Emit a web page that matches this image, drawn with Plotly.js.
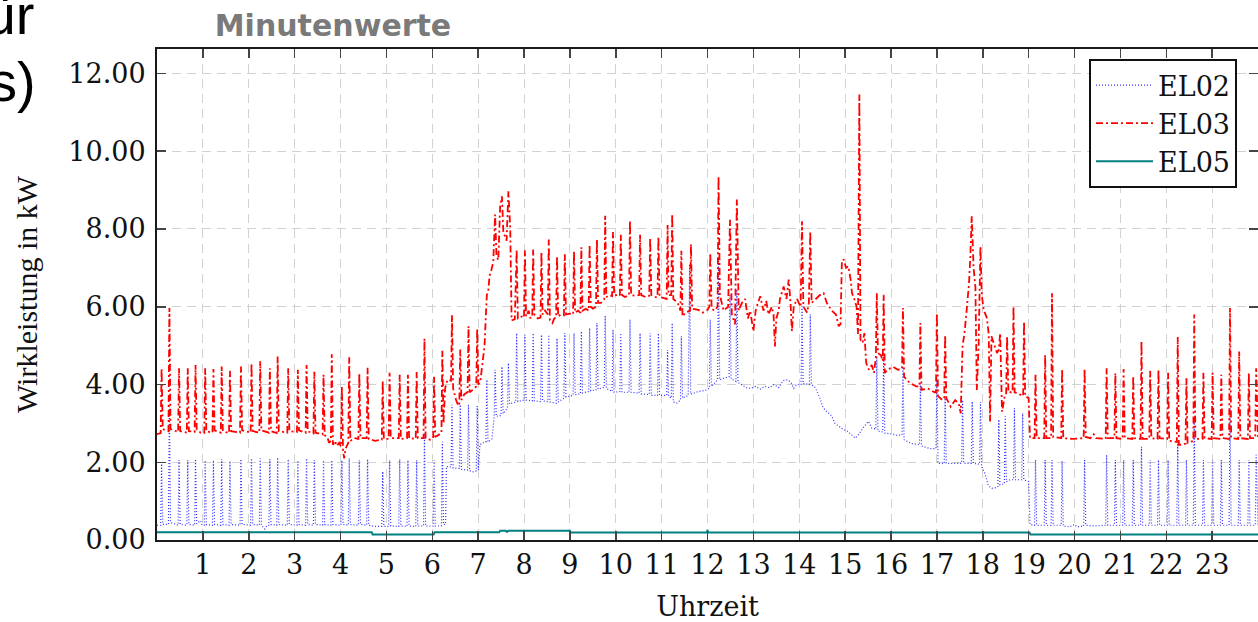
<!DOCTYPE html>
<html>
<head>
<meta charset="utf-8">
<script src="https://cdn.plot.ly/plotly-3.0.1.min.js"></script>
<style>
html,body{margin:0;padding:0;overflow:hidden;background:#fff;}
#chart{width:1264px;height:622px;}
</style>
</head>
<body>
<div id="chart"></div>
<script>
// ---- tick labels ----
const hourTicks = [1,2,3,4,5,6,7,8,9,10,11,12,13,14,15,16,17,18,19,20,21,22,23];
const hourLabels = ["1","2","3","4","5","6","7","8","9","10","11","12","13","14","15","16","17","18","19","20","21","22","23"];
const kwTicks = [0,2,4,6,8,10,12];
const kwLabels = ["0.00","2.00","4.00","6.00","8.00","10.00","12.00"];

// ---- EL02: [hour, kW] ----
const el02 = [
[0,0.38],[0.08,0.38],[0.10,2.0],[0.125,0.4],[0.25,0.4],[0.27,3.43],[0.295,0.45],
[0.46,0.38],[0.48,2.05],[0.505,0.4],[0.65,0.38],[0.67,2.05],[0.695,0.4],
[0.82,0.38],[0.84,2.08],[0.865,0.42],[0.95,0.5],[0.98,0.4],
[1.03,0.38],[1.05,2.05],[1.075,0.4],[1.21,0.38],[1.23,2.05],[1.255,0.4],
[1.39,0.38],[1.41,2.08],[1.435,0.4],[1.57,0.38],[1.59,2.03],[1.615,0.4],
[1.81,0.38],[1.83,2.08],[1.855,0.4],[2.04,0.38],[2.06,2.1],[2.085,0.4],
[2.23,0.38],[2.25,2.1],[2.275,0.38],[2.35,0.28],[2.40,0.38],
[2.44,0.38],[2.46,2.08],[2.485,0.4],[2.61,0.38],[2.63,2.12],[2.655,0.4],
[2.84,0.38],[2.86,2.08],[2.885,0.4],[3.05,0.38],[3.07,2.05],[3.095,0.4],
[3.24,0.38],[3.26,2.1],[3.285,0.4],[3.41,0.38],[3.43,2.05],[3.455,0.4],
[3.61,0.38],[3.63,2.05],[3.655,0.4],[3.79,0.38],[3.81,2.05],[3.835,0.4],
[4.01,0.38],[4.03,2.05],[4.055,0.4],[4.17,0.38],[4.19,2.1],[4.215,0.4],
[4.39,0.38],[4.41,2.05],[4.435,0.4],[4.57,0.38],[4.59,2.08],[4.615,0.38],
[4.75,0.35],[4.90,0.35],[4.92,1.76],[4.945,0.35],[5.05,0.35],[5.07,2.05],[5.095,0.36],
[5.27,0.35],[5.29,2.08],[5.315,0.36],[5.45,0.35],[5.47,2.05],[5.495,0.36],
[5.64,0.35],[5.66,2.05],[5.685,0.36],[5.81,0.36],[5.83,2.75],[5.855,0.36],
[6.02,0.36],[6.04,2.05],[6.065,0.36],[6.20,0.36],[6.22,2.53],[6.245,0.4],
[6.29,0.4],[6.31,1.89],[6.41,1.88],[6.43,3.48],[6.455,1.85],
[6.59,1.84],[6.61,3.48],[6.635,1.82],[6.77,1.8],[6.79,3.48],[6.815,1.78],
[6.9,1.75],[6.96,1.78],[6.98,3.45],[7.005,1.8],[7.04,2.45],[7.10,2.5],
[7.17,2.52],[7.19,4.12],[7.215,2.52],[7.3,2.6],[7.34,3.1],
[7.35,3.15],[7.37,4.38],[7.395,3.18],[7.46,3.2],[7.50,3.2],[7.52,4.46],[7.545,3.25],
[7.64,3.4],[7.66,4.55],[7.685,3.5],[7.75,3.53],
[7.82,3.55],[7.84,5.32],[7.865,3.56],[8.00,3.6],[8.02,5.28],[8.045,3.6],
[8.18,3.58],[8.20,5.32],[8.225,3.58],[8.36,3.56],[8.38,5.28],[8.405,3.58],
[8.52,3.56],[8.54,5.28],[8.565,3.55],[8.70,3.52],[8.72,5.19],[8.745,3.55],
[8.87,3.65],[8.89,5.32],[8.915,3.68],[9.07,3.72],[9.09,5.32],[9.115,3.74],
[9.23,3.76],[9.25,5.37],[9.275,3.78],[9.41,3.82],[9.43,5.45],[9.455,3.84],
[9.57,3.86],[9.59,5.58],[9.615,3.88],[9.75,3.93],[9.77,5.77],[9.795,3.9],
[9.92,3.82],[9.94,5.41],[9.965,3.8],[10.09,3.82],[10.11,5.32],[10.135,3.8],
[10.29,3.8],[10.31,5.67],[10.335,3.8],[10.51,3.78],[10.53,5.32],[10.555,3.76],
[10.73,3.74],[10.75,5.32],[10.775,3.72],[10.91,3.72],[10.93,5.32],[10.955,3.72],
[11.11,3.72],[11.13,4.89],[11.15,3.7],[11.21,3.65],[11.23,5.58],[11.255,3.55],
[11.33,3.52],[11.41,3.6],[11.43,5.24],[11.455,3.65],
[11.58,3.72],[11.61,7.1],[11.635,3.75],[11.8,3.82],[11.95,3.85],
[12.04,3.9],[12.06,5.67],[12.085,3.95],[12.22,4.12],[12.24,7.21],[12.265,4.12],
[12.40,4.18],[12.47,4.2],[12.49,6.31],[12.515,4.15],[12.62,4.08],[12.64,6.44],[12.665,4.05],
[12.75,3.98],[12.85,3.92],[12.95,3.9],[13.05,3.95],[13.15,3.88],[13.25,3.95],[13.35,3.92],
[13.45,4.0],[13.55,3.92],[13.65,4.1],[13.75,4.12],[13.82,4.05],[13.88,3.9],[13.95,4.0],
[14.04,4.0],[14.06,6.01],[14.085,4.02],[14.15,4.02],[14.22,4.0],[14.24,5.8],[14.265,4.0],
[14.35,3.92],[14.45,3.65],[14.52,3.4],[14.6,3.3],[14.7,3.2],[14.78,3.0],[14.86,2.92],
[14.95,2.85],[15.05,2.8],[15.15,2.7],[15.22,2.62],[15.3,2.72],[15.4,2.9],[15.51,3.05],[15.58,2.88],
[15.67,2.85],[15.69,4.72],[15.715,2.8],[15.82,2.78],[15.84,4.8],[15.865,2.75],
[16.0,2.73],[16.12,2.7],[16.24,2.7],[16.26,4.46],[16.285,2.58],[16.45,2.48],
[16.62,2.45],[16.64,4.03],[16.665,2.42],[16.85,2.35],[16.98,2.35],[17.00,4.16],[17.025,1.97],
[17.16,1.97],[17.18,3.69],[17.205,1.97],[17.35,1.97],[17.54,1.97],[17.56,3.6],[17.585,1.97],
[17.75,1.97],[17.77,3.56],[17.795,1.97],[17.93,1.95],[17.95,3.55],[17.975,1.9],
[18.05,1.7],[18.12,1.4],[18.2,1.33],[18.3,1.35],[18.33,1.38],[18.35,3.1],[18.375,1.42],
[18.47,1.45],[18.49,3.18],[18.515,1.5],[18.6,1.55],[18.67,1.55],[18.69,3.39],[18.715,1.55],
[18.85,1.55],[18.87,3.26],[18.895,1.55],[19.0,1.5],[19.03,0.4],
[19.13,0.38],[19.15,2.06],[19.175,0.38],[19.34,0.38],[19.36,2.06],[19.385,0.38],
[19.49,0.38],[19.51,2.06],[19.535,0.38],[19.71,0.38],[19.73,2.03],[19.755,0.36],
[19.9,0.34],[20.0,0.4],[20.05,0.34],[20.20,0.36],[20.22,2.06],[20.245,0.38],[20.45,0.36],
[20.68,0.38],[20.70,2.19],[20.725,0.38],[20.87,0.38],[20.89,2.06],[20.915,0.38],
[21.05,0.38],[21.07,2.06],[21.095,0.38],[21.26,0.38],[21.28,2.06],[21.305,0.38],
[21.44,0.38],[21.46,2.4],[21.485,0.38],[21.63,0.38],[21.65,2.06],[21.675,0.38],
[21.81,0.38],[21.83,2.06],[21.855,0.38],[22.02,0.38],[22.04,2.06],[22.065,0.38],
[22.23,0.38],[22.25,2.53],[22.275,0.38],[22.42,0.38],[22.44,2.06],[22.465,0.38],
[22.59,0.38],[22.61,3.18],[22.635,0.38],[22.79,0.38],[22.81,2.06],[22.835,0.38],
[22.99,0.38],[23.01,2.06],[23.035,0.38],[23.18,0.38],[23.20,2.06],[23.225,0.38],
[23.37,0.38],[23.39,3.39],[23.415,0.38],[23.57,0.38],[23.59,2.06],[23.615,0.38],
[23.78,0.38],[23.80,2.06],[23.825,0.38],[23.94,0.38],[23.96,2.19],[23.985,0.38],[24,0.38]
];

// ---- EL03: [hour, kW] ----
const el03 = [
[0,2.72],[0.08,2.75],[0.10,4.42],[0.125,2.85],[0.25,2.8],[0.27,5.97],[0.295,2.85],
[0.46,2.78],[0.48,4.42],[0.505,2.8],[0.65,2.76],[0.67,4.42],[0.695,2.8],
[0.82,2.78],[0.84,4.5],[0.865,2.85],[0.95,2.76],[1.03,2.75],[1.05,4.42],[1.075,2.8],
[1.21,2.76],[1.23,4.4],[1.255,2.82],[1.39,2.76],[1.41,4.46],[1.435,2.8],
[1.57,2.75],[1.59,4.35],[1.615,2.8],[1.81,2.76],[1.83,4.46],[1.855,2.82],
[2.04,2.76],[2.06,4.55],[2.085,2.8],[2.23,2.76],[2.25,4.6],[2.275,2.82],
[2.44,2.76],[2.46,4.42],[2.485,2.8],[2.61,2.75],[2.63,4.72],[2.655,2.8],
[2.84,2.76],[2.86,4.42],[2.885,2.8],[3.05,2.78],[3.07,4.38],[3.095,2.82],
[3.24,2.76],[3.26,4.5],[3.285,2.8],[3.41,2.74],[3.43,4.33],[3.455,2.76],
[3.61,2.72],[3.63,4.25],[3.655,2.7],[3.72,2.62],[3.75,2.5],
[3.79,2.55],[3.81,4.78],[3.835,2.45],[3.88,2.55],[3.92,2.42],[3.97,2.5],
[4.01,2.4],[4.03,3.95],[4.055,2.3],[4.08,2.1],[4.11,2.35],
[4.17,2.5],[4.19,4.7],[4.215,2.55],[4.3,2.62],[4.39,2.6],[4.41,4.28],[4.435,2.62],
[4.57,2.62],[4.59,4.43],[4.615,2.6],[4.75,2.55],[4.90,2.58],[4.92,4.1],[4.945,2.6],
[5.05,2.6],[5.07,4.3],[5.095,2.62],[5.27,2.62],[5.29,4.25],[5.315,2.6],
[5.45,2.62],[5.47,4.25],[5.495,2.62],[5.64,2.6],[5.66,4.32],[5.685,2.62],
[5.81,2.62],[5.83,5.18],[5.855,2.62],[5.95,2.58],[6.02,2.62],[6.04,4.2],[6.065,2.65],
[6.15,2.7],[6.20,2.75],[6.22,4.87],[6.245,3.0],[6.28,3.9],[6.33,4.12],
[6.41,4.1],[6.43,5.78],[6.455,3.9],[6.52,3.6],[6.57,3.45],
[6.59,3.5],[6.61,4.9],[6.635,3.6],[6.70,3.75],[6.77,3.8],[6.79,5.5],[6.815,3.8],
[6.88,3.86],[6.96,3.95],[6.98,5.43],[7.005,4.0],
[7.05,4.1],[7.10,4.6],[7.14,5.0],[7.17,5.8],[7.19,6.3],[7.22,6.4],[7.25,6.8],[7.29,6.95],[7.33,7.15],
[7.37,8.37],[7.40,7.3],[7.44,7.2],[7.48,8.6],[7.52,8.84],[7.55,7.9],[7.59,7.8],[7.62,7.7],
[7.66,8.97],[7.70,8.0],[7.73,5.65],
[7.80,5.68],[7.84,7.47],[7.865,5.7],[7.95,5.75],[8.00,5.72],[8.02,7.45],[8.045,5.75],
[8.1,5.9],[8.14,5.7],[8.18,5.75],[8.20,7.47],[8.225,5.8],[8.3,5.7],
[8.36,5.72],[8.38,7.4],[8.405,5.8],[8.46,5.9],[8.52,5.8],[8.54,7.73],[8.565,5.65],
[8.62,5.58],[8.66,5.7],[8.70,5.72],[8.72,7.3],[8.745,5.75],[8.8,5.8],
[8.87,5.78],[8.89,7.35],[8.915,5.8],[9.0,5.82],[9.07,5.8],[9.09,7.43],[9.115,5.85],
[9.18,5.9],[9.23,5.84],[9.25,7.53],[9.275,5.9],[9.35,5.95],
[9.41,5.9],[9.43,7.6],[9.455,6.0],[9.5,5.95],[9.57,6.0],[9.59,7.73],[9.615,6.1],
[9.68,6.1],[9.75,6.2],[9.77,8.34],[9.795,6.25],[9.86,6.3],
[9.92,6.27],[9.94,7.92],[9.965,6.3],[10.03,6.3],[10.09,6.28],[10.11,7.85],[10.135,6.3],
[10.2,6.25],[10.29,6.3],[10.31,8.22],[10.335,6.3],[10.42,6.28],
[10.51,6.3],[10.53,7.85],[10.555,6.3],[10.65,6.25],[10.73,6.28],[10.75,7.77],[10.775,6.3],
[10.85,6.25],[10.91,6.25],[10.93,7.8],[10.955,6.25],[11.05,6.22],
[11.11,6.2],[11.13,8.1],[11.15,6.3],[11.21,6.3],[11.23,8.39],[11.255,6.2],[11.35,6.1],
[11.41,5.9],[11.43,7.44],[11.455,5.75],[11.52,5.85],[11.62,5.9],[11.64,7.61],[11.665,5.95],
[11.8,5.92],[11.9,5.85],[12.0,5.92],
[12.04,6.0],[12.06,7.38],[12.09,5.95],[12.16,5.9],[12.22,6.0],[12.24,9.36],[12.27,6.3],
[12.35,5.9],[12.45,6.0],[12.49,8.24],[12.53,5.8],[12.60,5.55],[12.64,8.76],[12.68,5.9],
[12.75,6.1],[12.82,6.2],[12.88,5.7],[12.93,5.9],[13.0,5.37],[13.05,5.9],[13.10,6.1],
[13.15,6.27],[13.22,5.9],[13.28,6.15],[13.33,5.8],[13.40,6.0],[13.44,5.8],[13.47,4.98],
[13.5,5.7],[13.55,5.9],[13.58,6.2],[13.62,6.4],[13.66,6.52],[13.72,6.2],[13.77,6.7],
[13.81,6.1],[13.84,5.37],[13.88,6.0],[13.95,6.2],[14.03,6.0],[14.06,8.2],[14.09,6.0],
[14.17,5.85],[14.21,6.1],[14.24,7.94],[14.27,6.1],[14.35,6.2],[14.45,6.3],[14.53,6.35],
[14.60,6.1],[14.71,5.9],[14.80,5.8],[14.86,5.5],[14.90,5.55],[14.93,7.2],[14.97,7.21],
[15.02,7.0],[15.07,7.04],[15.12,6.7],[15.15,6.35],[15.20,6.2],[15.25,6.0],[15.28,5.3],
[15.31,11.46],[15.335,5.15],[15.38,5.07],[15.42,5.32],[15.46,4.55],[15.52,4.38],[15.58,4.5],
[15.63,4.3],[15.67,4.7],[15.69,6.35],[15.715,4.81],[15.78,4.75],[15.82,4.6],[15.84,6.31],
[15.865,4.3],[15.95,4.4],[16.05,4.45],[16.15,4.38],[16.24,4.4],[16.26,5.97],[16.285,4.2],
[16.40,4.05],[16.55,3.95],[16.62,3.95],[16.64,5.58],[16.665,3.86],[16.80,3.9],[16.95,3.8],
[16.98,3.8],[17.00,5.84],[17.025,3.7],[17.12,3.6],[17.16,3.65],[17.18,5.28],[17.205,3.65],
[17.30,3.43],[17.40,3.6],[17.48,3.5],[17.52,3.26],[17.56,5.0],[17.60,5.3],[17.65,5.92],
[17.70,6.6],[17.73,7.3],[17.76,8.33],[17.80,7.0],[17.84,6.5],[17.87,3.86],[17.91,5.0],
[17.95,7.55],[17.98,6.3],[18.02,5.92],[18.09,5.71],[18.13,5.3],[18.16,3.05],[18.19,5.24],
[18.25,5.0],[18.31,4.81],[18.35,4.9],[18.38,5.32],[18.42,3.3],[18.48,3.7],[18.51,3.75],
[18.53,5.24],[18.56,3.8],[18.65,3.8],[18.67,6.01],[18.695,3.8],[18.80,3.75],[18.88,3.7],
[18.90,5.62],[18.925,3.7],[19.0,3.65],[19.03,2.62],
[19.13,2.62],[19.15,4.25],[19.175,2.62],[19.34,2.62],[19.36,4.76],[19.385,2.62],
[19.49,2.62],[19.51,6.35],[19.535,2.65],[19.71,2.62],[19.73,4.4],[19.755,2.62],[19.95,2.6],
[20.20,2.62],[20.22,4.4],[20.245,2.65],[20.35,2.62],[20.42,2.72],[20.47,2.62],
[20.68,2.6],[20.70,4.42],[20.725,2.62],[20.87,2.62],[20.89,4.29],[20.915,2.62],
[21.05,2.6],[21.07,4.4],[21.095,2.62],[21.26,2.6],[21.28,4.22],[21.305,2.62],
[21.44,2.6],[21.46,5.11],[21.485,2.6],[21.63,2.6],[21.65,4.35],[21.675,2.62],
[21.81,2.6],[21.83,4.38],[21.855,2.62],[22.02,2.6],[22.04,4.3],[22.065,2.55],
[22.23,2.52],[22.25,5.22],[22.275,2.45],[22.35,2.45],[22.42,2.48],[22.44,4.16],[22.465,2.5],
[22.59,2.55],[22.61,5.8],[22.635,2.6],[22.79,2.6],[22.81,4.3],[22.835,2.62],
[22.99,2.6],[23.01,4.3],[23.035,2.62],[23.18,2.6],[23.20,4.25],[23.225,2.62],
[23.37,2.6],[23.39,5.97],[23.415,2.62],[23.57,2.6],[23.59,4.85],[23.615,2.62],
[23.78,2.6],[23.80,4.3],[23.825,2.62],[23.94,2.62],[23.96,4.42],[23.985,2.62],[24,2.62]
];

// ---- EL05: [hour, kW] ----
const el05 = [
[0,0.2],[4.68,0.2],[4.70,0.14],[6.03,0.14],[6.05,0.2],[7.46,0.2],[7.48,0.24],[7.60,0.24],
[7.63,0.21],[7.66,0.24],[9.0,0.24],[9.02,0.19],[11.99,0.19],[12.0,0.26],[12.01,0.19],
[19.02,0.19],[19.04,0.14],[24,0.14]
];

const xs = a => a.map(p => p[0]);
const ys = a => a.map(p => p[1]);

const traces = [
  {x: xs(el02), y: ys(el02), name: 'EL02', type: 'scatter', mode: 'lines',
   line: {color: 'rgb(50,50,255)', width: 1.2, dash: '1px,2px'}},
  {x: xs(el03), y: ys(el03), name: 'EL03', type: 'scatter', mode: 'lines',
   line: {color: 'rgb(255,0,0)', width: 1.8, dash: '7px,3px,2px,3px'}},
  {x: xs(el05), y: ys(el05), name: 'EL05', type: 'scatter', mode: 'lines',
   line: {color: 'rgb(0,128,128)', width: 2}}
];

const serif = 'DejaVu Serif';
const layout = {
  width: 1264, height: 622,
  margin: {l: 157, r: 6, t: 49, b: 82},
  paper_bgcolor: '#fff', plot_bgcolor: '#fff',
  showlegend: true,
  title: {text: '<b>Minutenwerte</b>', font: {family: 'DejaVu Sans', size: 30, color: '#7a7a7a'},
          xref: 'container', x: 333/1264, xanchor: 'center', yref: 'container', y: 1 - 25/622, yanchor: 'middle'},
  xaxis: {range: [0, 24], tickvals: hourTicks, ticktext: hourLabels,
          showgrid: true, gridcolor: '#d2d2d2', griddash: '9px,6px', gridwidth: 1,
          ticks: 'inside', ticklen: 9, tickwidth: 1.5, tickcolor: '#444',
          showline: true, linecolor: '#1a1a1a', linewidth: 2, mirror: 'allticks', zeroline: false,
          tickfont: {family: serif, size: 27, color: '#111'}, ticklabelstandoff: 0,
          title: {text: 'Uhrzeit', font: {family: serif, size: 27, color: '#111'}, standoff: 20}},
  yaxis: {range: [0, 12.63], tickvals: kwTicks, ticktext: kwLabels,
          showgrid: true, gridcolor: '#d2d2d2', griddash: '9px,6px', gridwidth: 1,
          ticks: 'inside', ticklen: 9, tickwidth: 1.5, tickcolor: '#444',
          showline: true, linecolor: '#1a1a1a', linewidth: 2, mirror: 'allticks', zeroline: false,
          tickfont: {family: serif, size: 27, color: '#111'}, ticklabelstandoff: 4,
          title: {text: 'Wirkleistung in kW', font: {family: 'Liberation Serif', size: 30, color: '#111'}, standoff: 22}},
  legend: {x: (1237-157)/1101, xanchor: 'right', y: (540-59)/491, yanchor: 'top',
           bgcolor: '#fff', bordercolor: '#111', borderwidth: 2,
           font: {family: serif, size: 27, color: '#111'}, itemwidth: 57, tracegroupgap: 0},
  annotations: [
    {text: 'für', xref: 'paper', yref: 'paper', x: (36-157)/1101, y: (540-14)/491,
     xanchor: 'right', yanchor: 'middle', showarrow: false,
     font: {family: 'Liberation Sans', size: 56, color: '#000'}},
    {text: 's)', xref: 'paper', yref: 'paper', x: (38-157)/1101, y: (540-81)/491,
     xanchor: 'right', yanchor: 'middle', showarrow: false,
     font: {family: 'Liberation Sans', size: 56, color: '#000'}}
  ]
};

Plotly.newPlot('chart', traces, layout, {staticPlot: true, displayModeBar: false});
</script>
</body>
</html>
